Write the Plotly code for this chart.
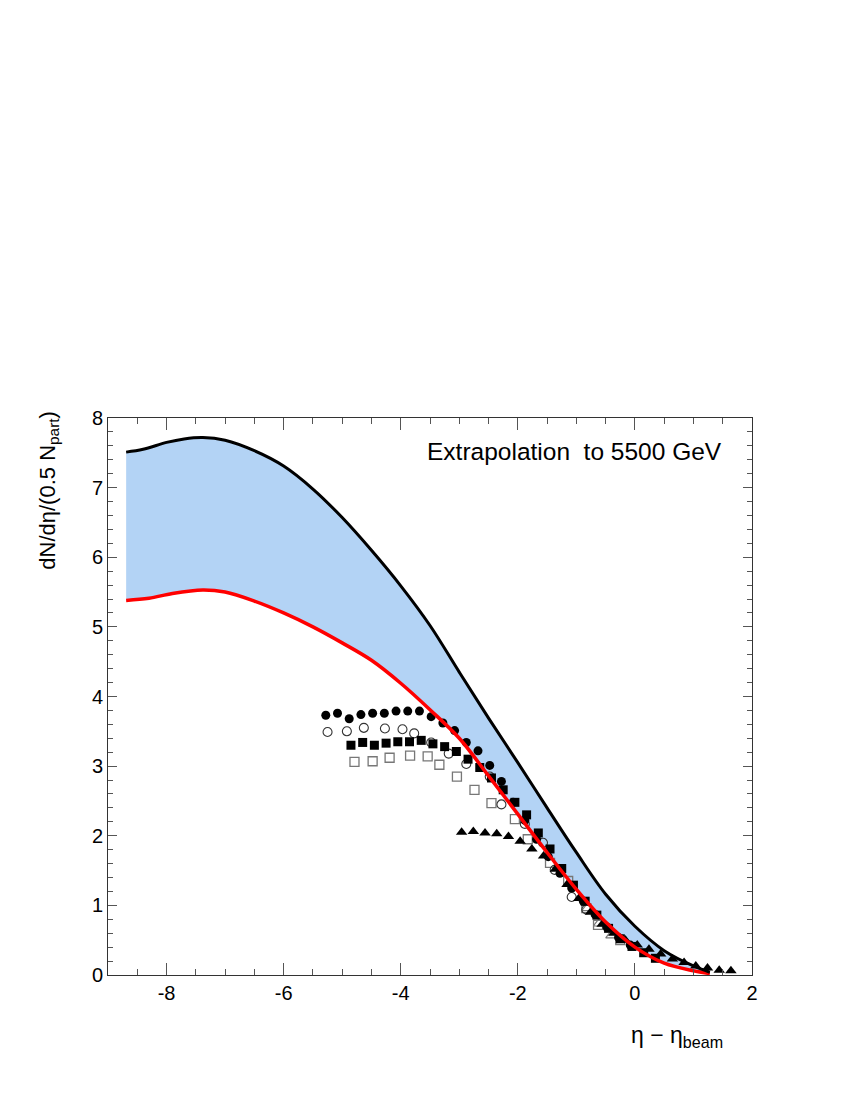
import plotly.graph_objects as go

# Upper (black) and lower (red) extrapolation curves
upper_x = [-8.69, -8.4, -8.0, -7.7, -7.38, -7.0, -6.5, -6.0, -5.5, -5.0, -4.5, -4.0, -3.5, -3.0,
           -2.5, -2.0, -1.5, -1.0, -0.5, 0.0, 0.5, 1.0, 1.28]
upper_y = [7.51, 7.55, 7.65, 7.70, 7.72, 7.68, 7.53, 7.31, 6.98, 6.57, 6.10, 5.59, 5.02, 4.35,
           3.69, 3.05, 2.40, 1.76, 1.16, 0.70, 0.35, 0.13, 0.04]
lower_x = [-8.69, -8.3, -7.9, -7.38, -7.0, -6.5, -6.0, -5.5, -5.0, -4.5, -4.0, -3.5, -3.0,
           -2.5, -2.0, -1.5, -1.0, -0.5, 0.0, 0.5, 1.0, 1.28]
lower_y = [5.38, 5.41, 5.48, 5.53, 5.50, 5.37, 5.20, 5.00, 4.77, 4.52, 4.19, 3.81, 3.40,
           2.86, 2.31, 1.76, 1.23, 0.76, 0.40, 0.17, 0.06, 0.02]

# Data series
fcirc_x = [-5.28, -5.08, -4.88, -4.68, -4.48, -4.28, -4.08, -3.88, -3.68, -3.48, -3.28, -3.08, -2.88,
           -2.68, -2.48, -2.28, -2.08, -1.88, -1.68, -1.48, -1.28, -1.08, -0.88, -0.68, -0.48, -0.28, -0.08]
fcirc_y = [3.73, 3.76, 3.68, 3.74, 3.76, 3.76, 3.79, 3.79, 3.79, 3.71, 3.62, 3.51, 3.34,
           3.22, 3.01, 2.78, 2.48, 2.22, 1.95, 1.70, 1.46, 1.25, 1.06, 0.87, 0.69, 0.54, 0.43]

ocirc_x = [-5.25, -4.92, -4.63, -4.27, -3.97, -3.77, -3.48, -3.18, -2.88, -2.48, -2.28, -1.88,
           -1.57, -1.37, -1.08, -0.83]
ocirc_y = [3.49, 3.50, 3.55, 3.54, 3.53, 3.47, 3.34, 3.18, 3.03, 2.85, 2.45, 2.17,
           1.90, 1.51, 1.12, 0.94]

fsq_x = [-4.85, -4.65, -4.45, -4.25, -4.05, -3.85, -3.65, -3.45, -3.25, -3.05, -2.85, -2.65, -2.45,
         -2.25, -2.05, -1.85, -1.65, -1.45, -1.25, -1.05, -0.85, -0.65, -0.45, -0.25, -0.05, 0.15, 0.35]
fsq_y = [3.30, 3.34, 3.30, 3.33, 3.35, 3.35, 3.37, 3.32, 3.28, 3.21, 3.10, 2.98, 2.83,
         2.66, 2.48, 2.30, 2.04, 1.81, 1.53, 1.29, 1.06, 0.86, 0.67, 0.52, 0.41, 0.32, 0.24]

osq_x = [-4.79, -4.48, -4.19, -3.84, -3.54, -3.34, -3.04, -2.74, -2.45, -2.05, -1.83, -1.45,
         -1.14, -0.83, -0.63, -0.25]
osq_y = [3.06, 3.07, 3.12, 3.15, 3.14, 3.02, 2.85, 2.66, 2.47, 2.24, 1.95, 1.61,
         1.35, 0.96, 0.72, 0.50]

ftri_x = [-2.96, -2.76, -2.56, -2.36, -2.16, -1.96, -1.76, -1.56, -1.36, -1.16, -0.96, -0.76,
          -0.56, -0.36, -0.16, 0.04, 0.24, 0.44, 0.64, 0.84, 1.04, 1.24, 1.44, 1.64]
ftri_y = [2.05, 2.06, 2.04, 2.03, 1.99, 1.92, 1.81, 1.71, 1.52, 1.30, 1.10, 0.90,
          0.73, 0.60, 0.50, 0.43, 0.37, 0.30, 0.23, 0.18, 0.13, 0.10, 0.07, 0.06]

otri_x = [-0.81, -0.61, -0.40]
otri_y = [0.96, 0.74, 0.57]

x_ticks = [-8, -6, -4, -2, 0, 2]
x_tick_labels = ["-8", "-6", "-4", "-2", "0", "2"]
y_ticks = [0, 1, 2, 3, 4, 5, 6, 7, 8]
y_tick_labels = ["0", "1", "2", "3", "4", "5", "6", "7", "8"]

FONT = "Liberation Sans, Arial, Helvetica, sans-serif"

fig = go.Figure()

# band fill
fig.add_trace(go.Scatter(x=lower_x, y=lower_y, mode="lines",
                         line=dict(width=0, color="rgba(0,0,0,0)", shape="spline"),
                         showlegend=False, hoverinfo="skip"))
fig.add_trace(go.Scatter(x=upper_x, y=upper_y, mode="lines",
                         line=dict(width=0, color="rgba(0,0,0,0)", shape="spline"),
                         fill="tonexty", fillcolor="rgb(179,211,245)", showlegend=False, hoverinfo="skip"))

# data markers
fig.add_trace(go.Scatter(x=otri_x, y=otri_y, mode="markers",
                         marker=dict(symbol="triangle-up-open", size=10, color="#777777", line=dict(width=1.2)),
                         showlegend=False))
fig.add_trace(go.Scatter(x=osq_x, y=osq_y, mode="markers",
                         marker=dict(symbol="square-open", size=9, color="#777777", line=dict(width=1.3)),
                         showlegend=False))
fig.add_trace(go.Scatter(x=ocirc_x, y=ocirc_y, mode="markers",
                         marker=dict(symbol="circle-open", size=9, color="#333333", line=dict(width=1.1)),
                         showlegend=False))
fig.add_trace(go.Scatter(x=ftri_x, y=ftri_y, mode="markers",
                         marker=dict(symbol="triangle-up", size=10, color="black"),
                         showlegend=False))
fig.add_trace(go.Scatter(x=fsq_x, y=fsq_y, mode="markers",
                         marker=dict(symbol="square", size=9, color="black"),
                         showlegend=False))
fig.add_trace(go.Scatter(x=fcirc_x, y=fcirc_y, mode="markers",
                         marker=dict(symbol="circle", size=9, color="black"),
                         showlegend=False))

# curves on top
fig.add_trace(go.Scatter(x=lower_x, y=lower_y, mode="lines",
                         line=dict(width=3.5, color="#ff0000", shape="spline"), showlegend=False))
fig.add_trace(go.Scatter(x=upper_x, y=upper_y, mode="lines",
                         line=dict(width=3, color="black", shape="spline"), showlegend=False))

axis_common = dict(showline=True, linecolor="#333333", linewidth=1, mirror="ticks",
                   ticks="inside", tickcolor="#555555", showgrid=False, zeroline=False,
                   tickfont=dict(family=FONT, size=20, color="black"))

fig.update_xaxes(range=[-9, 2], tickvals=x_ticks, ticktext=x_tick_labels, ticklen=12,
                 minor=dict(dtick=0.5, ticks="inside", ticklen=6, tickcolor="#555555"),
                 **axis_common)
fig.update_yaxes(range=[0, 8], tickvals=y_ticks, ticktext=y_tick_labels, ticklen=9,
                 minor=dict(dtick=0.2, ticks="inside", ticklen=5, tickcolor="#555555"),
                 **axis_common)

fig.add_annotation(text="Extrapolation  to 5500 GeV", xref="paper", yref="paper",
                   x=0.957, y=0.939, xanchor="right", yanchor="middle", showarrow=False,
                   font=dict(family=FONT, size=24.5, color="black"))
fig.add_annotation(text="dN/dη/(0.5 N<sub>part</sub>)", xref="paper", yref="paper",
                   x=-0.093, y=1.016, xanchor="center", yanchor="top", textangle=-90, showarrow=False,
                   font=dict(family=FONT, size=22, color="black"))
fig.add_annotation(text="η − η<sub>beam</sub>", xref="paper", yref="paper",
                   x=0.958, y=-0.08, xanchor="right", yanchor="top", showarrow=False,
                   font=dict(family=FONT, size=23, color="black"))

fig.update_layout(width=850, height=1100, plot_bgcolor="white", paper_bgcolor="white",
                  margin=dict(l=100, r=106, t=410, b=133), showlegend=False)

fig.write_html("out.html")
